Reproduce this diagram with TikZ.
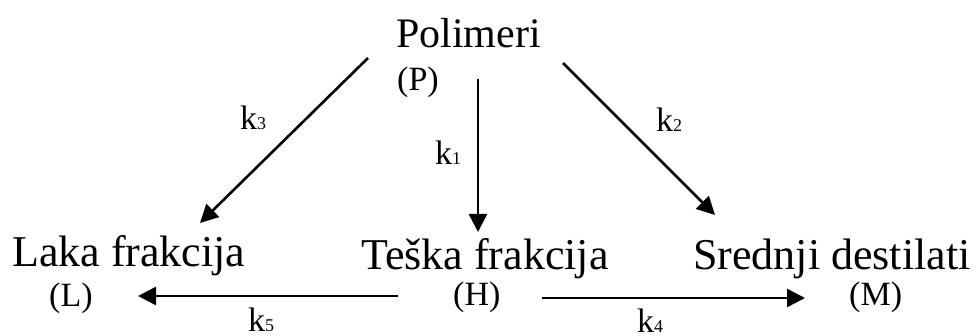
\documentclass[tikz,border=0pt]{standalone}
\usepackage{fontspec}
\setmainfont{Liberation Serif}
\usetikzlibrary{arrows.meta}
\tikzset{
  big/.style={anchor=base west, inner sep=0pt, font=\fontsize{44}{44}\selectfont},
  top/.style={anchor=base west, inner sep=0pt, font=\fontsize{42}{42}\selectfont},
  abbr/.style={anchor=base west, inner sep=0pt, font=\fontsize{34}{34}\selectfont},
  rate/.style={anchor=base west, inner sep=0pt, text depth=0pt, font=\fontsize{34}{34}\selectfont},
  conn/.style={line width=2.6pt, -{Triangle[length=18pt,width=18pt]}}
}
\newcommand{\kk}[1]{k{\fontsize{18}{18}\selectfont #1}}
\begin{document}
\begin{tikzpicture}[x=1pt,y=-1pt]
\useasboundingbox[fill=white] (0,0) rectangle (977,336);
% nodes
\node[top]  (P)  at (396,48) {Polimeri};
\node[abbr] (Pa) at (397,91) {(P)};
\node[big]  (L)  at (12,267) {Laka frakcija};
\node[big]  (H)  at (361,270) {Teška frakcija};
\node[big]  (M)  at (693,270) {Srednji destilati};
\node[abbr] (La) at (49,307) {(L)};
\node[abbr] (Ha) at (453,306) {(H)};
\node[abbr] (Ma) at (849,306) {(M)};
\node[rate] (k3) at (240,130) {\kk{3}};
\node[rate] (k1) at (435,165) {\kk{1}};
\node[rate] (k2) at (656,132) {\kk{2}};
\node[rate] (k5) at (248,332) {\kk{5}};
\node[rate] (k4) at (637,333) {\kk{4}};
% connector ends
\coordinate (p3) at (368,58);
\coordinate (l3) at (200,223);
\coordinate (p1) at (478,79);
\coordinate (h1) at (478,232);
\coordinate (p2) at (563,63);
\coordinate (m2) at (715,215);
\coordinate (h5) at (398,296);
\coordinate (l5) at (138,296);
\coordinate (h4) at (542,298);
\coordinate (m4) at (805,298);
% connectors
\draw[conn] (p3) -- (l3);
\draw[conn] (p1) -- (h1);
\draw[conn] (p2) -- (m2);
\draw[conn] (h5) -- (l5);
\draw[conn] (h4) -- (m4);
\end{tikzpicture}
\end{document}
